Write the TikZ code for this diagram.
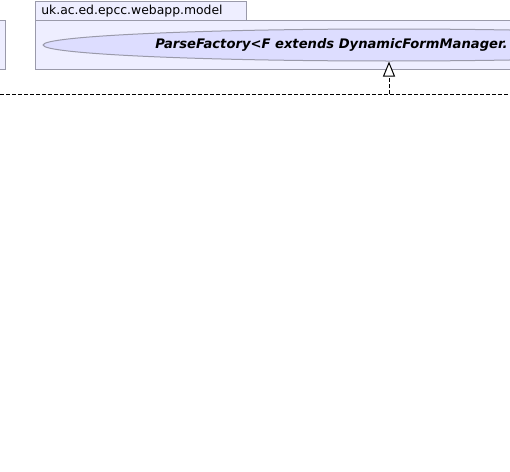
\documentclass[tikz,border=0pt]{standalone}
\usepackage{fontspec}
\setmainfont{DejaVu Sans}
\usetikzlibrary{shapes.geometric,arrows.meta}
\definecolor{pkgfill}{HTML}{EEEEFF}
\definecolor{pkgline}{HTML}{9A9AAA}
\definecolor{ellfill}{HTML}{DDDDFF}
\tikzset{
  pkgbox/.style={draw=pkgline, fill=pkgfill, line width=0.75pt},
  usecase/.style={ellipse, draw=pkgline, fill=ellfill, line width=0.75pt, inner sep=0pt,
     minimum width=519pt, minimum height=24pt},
  uclabel/.style={inner sep=0pt, font=\fontsize{9.85}{11}\selectfont\bfseries\itshape},
  realize/.style={line width=0.75pt, dash pattern=on 3pt off 1.5pt},
}
\begin{document}
\begin{tikzpicture}[x=0.75pt,y=-0.75pt]
\useasboundingbox (0,0) rectangle (510,471);
\fill[white] (0,0) rectangle (510,471);
\begin{scope}
\clip (0,0) rectangle (510,471);
% left package fragment
\path[pkgbox] (-20,20) rectangle (5,69);
% package tab and body
\path[pkgbox] (35,1) rectangle (246,20);
\path[pkgbox] (35,20) rectangle (560,69);
% use case ellipse
\node[usecase] (pf) at (389,45) {};
\end{scope}
\node[anchor=west, inner sep=0pt, font=\fontsize{9.3}{11}\selectfont] (pkgname) at (41,11) {uk.ac.ed.epcc.webapp.model};
\node[uclabel, anchor=west] (pflabel) at (155,45) {ParseFactory<F extends DynamicFormManager.};
% realization connector
\coordinate (c1) at (0,94);
\coordinate (c2) at (510,94);
\coordinate (c3) at (389,94);
\draw[realize] (c1) -- (c2);
\draw[realize, -{Triangle[open, length=11.25pt, width=9pt, fill=white]}] (c3) -- (pf.south);
\end{tikzpicture}
\end{document}
